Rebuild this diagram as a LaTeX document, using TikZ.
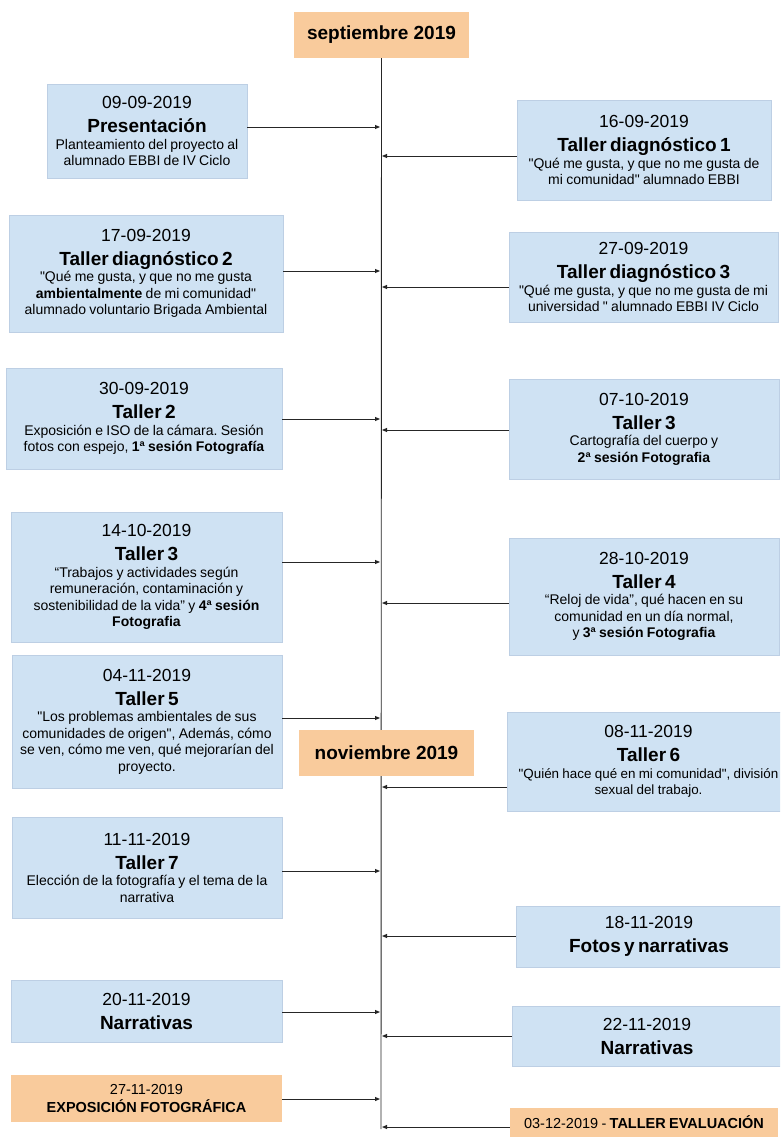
\documentclass[tikz,border=0pt]{standalone}
\usepackage{fontspec}
\setmainfont{Liberation Sans}[Ligatures=TeXOff]
\usetikzlibrary{arrows.meta}

\definecolor{azul}{HTML}{CFE2F3}
\definecolor{bordeazul}{HTML}{BDCFE4}
\definecolor{naranja}{HTML}{F9CB9C}

\newcommand{\fecha}{\fontsize{17.5}{21}\selectfont}
\newcommand{\titulo}{\fontsize{19}{24}\selectfont\bfseries}
\newcommand{\cuerpo}{\fontsize{14}{16.5}\selectfont}
\newcommand{\chico}{\fontsize{14.5}{17.5}\selectfont}

\tikzset{
  evento/.style={draw=bordeazul, fill=azul, line width=0.6pt, align=center, inner xsep=1pt, inner ysep=0pt},
  hito/.style={fill=naranja, align=center, inner xsep=1pt, inner ysep=0pt},
  flecha/.style={draw=black!85, line width=0.9pt, -{Triangle[length=5pt,width=4pt]}},
  linea/.style={draw=black!85, line width=0.9pt}
}

\begin{document}
\frenchspacing
\begin{tikzpicture}[x=1pt,y=-1pt]
  \useasboundingbox (0,0) rectangle (780,1137);
  \clip (0,0) rectangle (780,1137);
  \fill[white] (0,0) rectangle (780,1137);

  % timeline
  \node[hito, minimum width=175, minimum height=46] (sep) at (381.5,35) {\titulo septiembre 2019};
  \coordinate (fin) at (381,1129);
  \draw[linea] (sep.south) -- (fin);
  \node[hito, minimum width=175, minimum height=46] (nov) at (386.5,753) {\titulo noviembre 2019};

  % left column
  \node[evento, text width=198pt, minimum height=94] (pres) at (147,131)
    {{\fecha 09-09-2019\par}{\titulo Presentación\par}{\cuerpo Planteamiento del proyecto al\\ alumnado EBBI de IV Ciclo\par}};
  \node[evento, text width=272pt, minimum height=117] (diag2) at (146,273.5)
    {{\fecha 17-09-2019\par}{\titulo Taller diagnóstico 2\par}{\cuerpo "Qué me gusta, y que no me gusta\\ \textbf{ambientalmente} de mi comunidad"\\ alumnado voluntario Brigada Ambiental\par}};
  \node[evento, text width=274pt, minimum height=101] (t2) at (144,418.5)
    {{\fecha 30-09-2019\par}{\titulo Taller 2\par}{\cuerpo Exposición e ISO de la cámara. Sesión\\ fotos con espejo, \textbf{1ª sesión Fotografía}\par}};
  \node[evento, text width=269pt, minimum height=130] (t3b) at (146.5,577)
    {{\fecha 14-10-2019\par}{\titulo Taller 3\par}{\cuerpo “Trabajos y actividades según\\ remuneración, contaminación y\\ sostenibilidad de la vida” y \textbf{4ª sesión}\\ \textbf{Fotografia}\par}};
  \node[evento, text width=268pt, minimum height=133] (t5) at (147,721.5)
    {{\fecha 04-11-2019\par}{\titulo Taller 5\par}{\cuerpo "Los problemas ambientales de sus\\ comunidades de origen", Además, cómo\\ se ven, cómo me ven, qué mejorarían del\\ proyecto.\par}};
  \node[evento, text width=268pt, minimum height=101] (t7) at (147,867.5)
    {{\fecha 11-11-2019\par}{\titulo Taller 7\par}{\cuerpo Elección de la fotografía y el tema de la\\ narrativa\par}};
  \node[evento, text width=269pt, minimum height=62] (narr1) at (146.5,1011)
    {{\fecha 20-11-2019\par}{\titulo Narrativas\par}};
  \node[hito, text width=269pt, minimum height=47] (expo) at (146.5,1098.5)
    {{\chico 27-11-2019\par}{\chico\bfseries EXPOSICIÓN FOTOGRÁFICA\par}};

  % right column
  \node[evento, text width=252pt, minimum height=100] (diag1) at (644,150)
    {{\fecha 16-09-2019\par}{\titulo Taller diagnóstico 1\par}{\cuerpo "Qué me gusta, y que no me gusta de\\ mi comunidad" alumnado EBBI\par}};
  \node[evento, text width=267pt, minimum height=90] (diag3) at (643.5,277)
    {{\fecha 27-09-2019\par}{\titulo Taller diagnóstico 3\par}{\cuerpo "Qué me gusta, y que no me gusta de mi\\ universidad " alumnado EBBI IV Ciclo\par}};
  \node[evento, text width=268pt, minimum height=100] (t3a) at (644,429)
    {{\fecha 07-10-2019\par}{\titulo Taller 3\par}{\cuerpo Cartografía del cuerpo y\\ \textbf{2ª sesión Fotografia}\par}};
  \node[evento, text width=268pt, minimum height=117] (t4) at (644,596.5)
    {{\fecha 28-10-2019\par}{\titulo Taller 4\par}{\cuerpo “Reloj de vida”, qué hacen en su\\ comunidad en un día normal,\\ y \textbf{3ª sesión Fotografia}\par}};
  \node[evento, text width=281pt, minimum height=99] (t6) at (648.5,761.5)
    {{\fecha 08-11-2019\par}{\titulo Taller 6\par}{\fontsize{13.4}{16.5}\selectfont "Quién hace qué en mi comunidad", división\\ sexual del trabajo.\par}};
  \node[evento, text width=264pt, minimum height=61] (fotos) at (649,936.5)
    {{\fecha 18-11-2019\par}{\titulo Fotos y narrativas\par}};
  \node[evento, text width=268pt, minimum height=60] (narr2) at (647,1036)
    {{\fecha 22-11-2019\par}{\titulo Narrativas\par}};
  \node[hito, text width=266pt, minimum height=29] (eval) at (644,1122.5)
    {{\chico 03-12-2019 - \textbf{TALLER EVALUACIÓN}\par}};

  % points on the timeline
  \coordinate (a1) at (380,127);
  \coordinate (a2) at (380,271);
  \coordinate (a3) at (380,419);
  \coordinate (a4) at (380,562);
  \coordinate (a5) at (380,718);
  \coordinate (a6) at (380,871);
  \coordinate (a7) at (380,1012);
  \coordinate (a8) at (380,1099);
  \coordinate (b1) at (382,156);
  \coordinate (b2) at (382,287);
  \coordinate (b3) at (382,430);
  \coordinate (b4) at (382,603);
  \coordinate (b5) at (382,787);
  \coordinate (b6) at (382,936);
  \coordinate (b7) at (382,1036);
  \coordinate (b8) at (382,1127);

  % connectors
  \draw[flecha] (pres.east |- a1) -- (a1);
  \draw[flecha] (diag2.east |- a2) -- (a2);
  \draw[flecha] (t2.east |- a3) -- (a3);
  \draw[flecha] (t3b.east |- a4) -- (a4);
  \draw[flecha] (t5.east |- a5) -- (a5);
  \draw[flecha] (t7.east |- a6) -- (a6);
  \draw[flecha] (narr1.east |- a7) -- (a7);
  \draw[flecha] (expo.east |- a8) -- (a8);
  \draw[flecha] (diag1.west |- b1) -- (b1);
  \draw[flecha] (diag3.west |- b2) -- (b2);
  \draw[flecha] (t3a.west |- b3) -- (b3);
  \draw[flecha] (t4.west |- b4) -- (b4);
  \draw[flecha] (t6.west |- b5) -- (b5);
  \draw[flecha] (fotos.west |- b6) -- (b6);
  \draw[flecha] (narr2.west |- b7) -- (b7);
  \draw[flecha] (eval.west |- b8) -- (b8);
\end{tikzpicture}
\end{document}
